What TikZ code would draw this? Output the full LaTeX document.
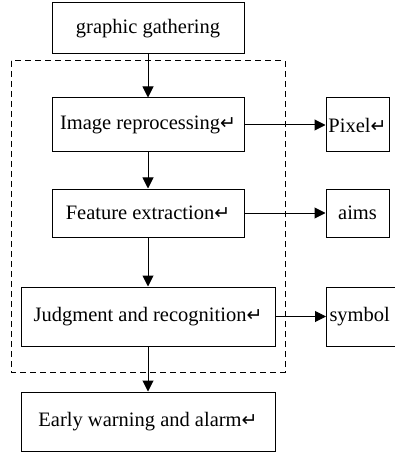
\documentclass[tikz,border=0pt]{standalone}
\usepackage{fontspec}
\setmainfont{Liberation Serif}
\newfontfamily\flechafont{DejaVu Sans}
\newcommand{\retorno}{{\flechafont\fontsize{19}{19}\selectfont ↵}}
\usetikzlibrary{shapes, arrows.meta, positioning}
\tikzstyle{caja} = [draw, line width=1pt, rectangle, inner sep=2pt, font=\fontsize{20.5}{23}\selectfont]
\tikzstyle{flecha} = [line width=1pt, -{Triangle[length=11pt,width=11pt]}]
\tikzstyle{marco} = [draw, line width=1pt, dash pattern=on 6pt off 4pt]

\begin{document}
\begin{tikzpicture}[x=1pt, y=-1pt]
	\useasboundingbox (0,0) rectangle (395,454);
	\node [caja, minimum width=192pt, minimum height=51pt] (captura) at (148,28.5) {graphic gathering};
	\node [caja, minimum width=192pt, minimum height=54pt] (preproc) at (148,125) {Image reprocessing\retorno};
	\node [caja, minimum width=192pt, minimum height=48pt] (rasgos) at (148,213) {Feature extraction\retorno};
	\node [caja, minimum width=254pt, minimum height=59pt] (juicio) at (148,316.5) {Judgment and recognition\retorno};
	\node [caja, minimum width=254pt, minimum height=59pt] (alarma) at (148,421.5) {Early warning and alarm\retorno};
	\node [caja, minimum width=63pt, minimum height=54pt, inner sep=0pt] (pixel) at (357.5,125) {Pixel\retorno};
	\node [caja, minimum width=63pt, minimum height=48pt] (metas) at (357.5,213) {aims};
	\node [caja, minimum width=84pt, minimum height=59pt, anchor=west, text width=78pt] (simbolo) at (326,316.5) {symbol};
	\draw [marco] (11,61) rectangle (285,372);
	\draw [flecha] (captura) -- (preproc);
	\draw [flecha] (preproc) -- (rasgos);
	\draw [flecha] (rasgos) -- (juicio);
	\draw [flecha] (juicio) -- (alarma);
	\draw [flecha] (preproc) -- (pixel);
	\draw [flecha] (rasgos) -- (metas);
	\draw [flecha] (juicio) -- (simbolo);
\end{tikzpicture}
\end{document}
